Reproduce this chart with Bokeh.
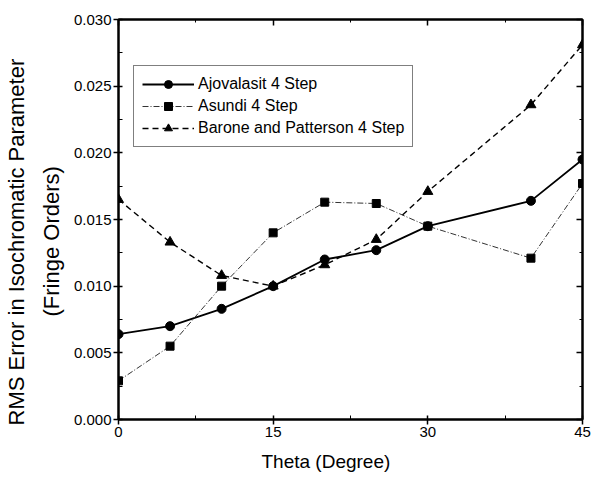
from bokeh.plotting import figure
from bokeh.models import LinearAxis, Range1d, Legend, LegendItem, FixedTicker, CustomJSTickFormatter, Title
from bokeh.embed import file_html
from bokeh.resources import INLINE

theta = [0, 5, 10, 15, 20, 25, 30, 40, 45]
ajovalasit = [0.0064, 0.0070, 0.0083, 0.0100, 0.0120, 0.0127, 0.0145, 0.0164, 0.0195]
asundi = [0.0029, 0.0055, 0.0100, 0.0140, 0.0163, 0.0162, 0.0145, 0.0121, 0.0177]
barone = [0.0165, 0.0133, 0.0108, 0.0100, 0.0116, 0.0135, 0.0171, 0.0236, 0.0281]
x_ticks = [0, 15, 30, 45]
x_minor = [7.5, 22.5, 37.5]
y_ticks = [0.000, 0.005, 0.010, 0.015, 0.020, 0.025, 0.030]
y_minor = [0.0025, 0.0075, 0.0125, 0.0175, 0.0225, 0.0275]
series_names = ["Ajovalasit 4 Step", "Asundi 4 Step", "Barone and Patterson 4 Step"]
x_title = "Theta (Degree)"
y_title = ["RMS Error in Isochromatic Parameter", "(Fringe Orders)"]

FONT = "Liberation Sans"

p = figure(width=591, height=480, output_backend="svg", toolbar_location=None,
           x_range=Range1d(0, 45), y_range=Range1d(0, 0.030),
           min_border_left=118, min_border_right=9, min_border_top=19, min_border_bottom=59)
p.background_fill_color = "white"
p.border_fill_color = "white"
p.outline_line_color = "black"
p.outline_line_width = 2
p.grid.visible = False

xa = p.xaxis[0]
ya = p.yaxis[0]
xa.ticker = FixedTicker(ticks=x_ticks, minor_ticks=x_minor)
ya.ticker = FixedTicker(ticks=y_ticks, minor_ticks=y_minor)
ya.formatter = CustomJSTickFormatter(code="return tick.toFixed(3);")
for ax in (xa, ya):
    ax.axis_line_width = 2
    ax.axis_line_color = "black"
    ax.major_tick_line_width = 1.5
    ax.minor_tick_line_width = 1
    ax.major_tick_out = 5
    ax.major_tick_in = 4
    ax.minor_tick_out = 0
    ax.minor_tick_in = 4
    ax.major_label_text_font = FONT
    ax.major_label_text_font_size = "15px"
    ax.major_label_text_color = "black"
xa.major_label_standoff = 2
ya.major_label_standoff = 2

empty = CustomJSTickFormatter(code="return '';")
top = LinearAxis(ticker=FixedTicker(ticks=x_ticks, minor_ticks=x_minor), formatter=empty)
right = LinearAxis(ticker=FixedTicker(ticks=y_ticks, minor_ticks=y_minor), formatter=empty)
for ax in (top, right):
    ax.axis_line_width = 2
    ax.major_tick_in = 6
    ax.major_tick_out = 0
    ax.minor_tick_in = 3
    ax.minor_tick_out = 0
    ax.major_tick_line_width = 1.5
    ax.major_label_standoff = 0
p.add_layout(top, "above")
p.add_layout(right, "right")

# axis titles as side titles, left-aligned with an offset to match the reference
xt = Title(text=x_title, align="left", offset=143, text_font=FONT, text_font_size="19px",
           text_font_style="normal", text_color="black", standoff=18)
p.add_layout(xt, "below")
yt2 = Title(text=y_title[1], align="left", offset=103, text_font=FONT, text_font_size="22px",
            text_font_style="normal", text_color="black", standoff=14)
yt1 = Title(text=y_title[0], align="left", offset=-6, text_font=FONT, text_font_size="22px",
            text_font_style="normal", text_color="black", standoff=2)
p.add_layout(yt2, "left")
p.add_layout(yt1, "left")

l1 = p.line(theta, ajovalasit, line_color="black", line_width=1.8)
m1 = p.scatter(theta, ajovalasit, marker="circle", size=9, fill_color="black", line_color="black")
l2 = p.line(theta, asundi, line_color="#333333", line_width=1, line_dash="6 2 1 2")
m2 = p.scatter(theta, asundi, marker="square", size=8, fill_color="black", line_color="black")
l3 = p.line(theta, barone, line_color="black", line_width=1.4, line_dash="6 4")
m3 = p.scatter(theta, barone, marker="triangle", size=10, fill_color="black", line_color="black")

legend = Legend(items=[
    LegendItem(label=series_names[0], renderers=[l1, m1]),
    LegendItem(label=series_names[1], renderers=[l2, m2]),
    LegendItem(label=series_names[2], renderers=[l3, m3]),
], location=(15, 272))
legend.label_text_font = FONT
legend.label_text_font_size = "16px"
legend.label_text_color = "black"
legend.glyph_width = 52
legend.glyph_height = 20
legend.label_height = 20
legend.spacing = 2
legend.label_standoff = 4
legend.padding = 8
legend.margin = 0
legend.border_line_color = "black"
legend.border_line_width = 1.5
legend.background_fill_alpha = 1
p.add_layout(legend, "center")

open("out.html", "w").write(file_html(p, INLINE))
